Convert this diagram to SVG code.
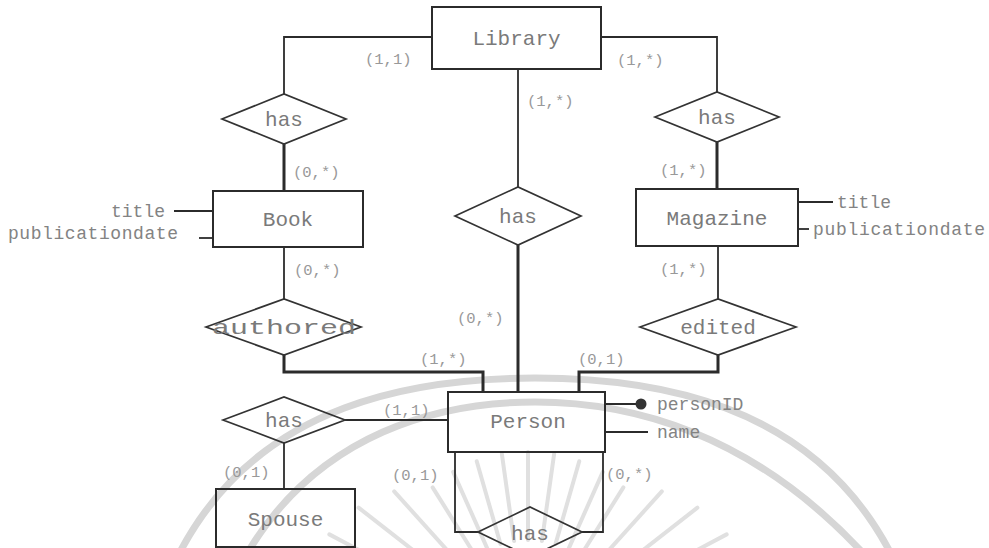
<svg xmlns="http://www.w3.org/2000/svg" width="989" height="548" viewBox="0 0 989 548">
  <style>
    .box { fill: none; stroke: #2b2b2b; stroke-width: 2; }
    .rel { fill: none; stroke: #333; stroke-width: 1.7; }
    .ln { fill: none; stroke: #2b2b2b; stroke-width: 1.8; }
    .thick { fill: none; stroke: #2b2b2b; stroke-width: 3; }
    .name { font-family: "Liberation Mono", "DejaVu Sans Mono", monospace; font-size: 21px; fill: #7a7a7a; text-anchor: middle; }
    .attr { font-family: "Liberation Mono", "DejaVu Sans Mono", monospace; font-size: 18px; fill: #838383; }
    .card { font-family: "Liberation Mono", "DejaVu Sans Mono", monospace; font-size: 15.5px; fill: #999999; }
    .wm { fill: none; stroke: #d6d6d6; stroke-width: 7; stroke-linecap: round; }
    .ray { stroke: #e0e0e0; stroke-width: 4; stroke-linecap: round; }
  </style>

  <rect width="989" height="548" fill="#ffffff"/>

  <!-- faint background emblem -->
  <g id="emblem">
    <path class="wm" d="M180,552 C260,400 420,378 535,378 C650,378 810,400 890,552"/>
    <path class="wm" d="M248,552 C320,432 440,402 535,402 C630,402 750,432 862,552"/>
    <g transform="translate(528,640)">
      <line class="ray" x1="0" y1="-100" x2="0" y2="-188"/>
      <line class="ray" x1="0" y1="-100" x2="0" y2="-188" transform="rotate(8)"/>
      <line class="ray" x1="0" y1="-100" x2="0" y2="-188" transform="rotate(-8)"/>
      <line class="ray" x1="0" y1="-100" x2="0" y2="-186" transform="rotate(16)"/>
      <line class="ray" x1="0" y1="-100" x2="0" y2="-186" transform="rotate(-16)"/>
      <line class="ray" x1="0" y1="-100" x2="0" y2="-184" transform="rotate(24)"/>
      <line class="ray" x1="0" y1="-100" x2="0" y2="-184" transform="rotate(-24)"/>
      <line class="ray" x1="0" y1="-100" x2="0" y2="-180" transform="rotate(32)"/>
      <line class="ray" x1="0" y1="-100" x2="0" y2="-180" transform="rotate(-32)"/>
      <line class="ray" x1="0" y1="-110" x2="0" y2="-200" transform="rotate(42)"/>
      <line class="ray" x1="0" y1="-110" x2="0" y2="-200" transform="rotate(-42)"/>
      <line class="ray" x1="0" y1="-120" x2="0" y2="-215" transform="rotate(52)"/>
      <line class="ray" x1="0" y1="-120" x2="0" y2="-215" transform="rotate(-52)"/>
      <line class="ray" x1="0" y1="-130" x2="0" y2="-225" transform="rotate(62)"/>
      <line class="ray" x1="0" y1="-130" x2="0" y2="-225" transform="rotate(-62)"/>
    </g>
  </g>

  <!-- connectors -->
  <g id="connectors">
    <path class="ln" d="M432,37 H284 V94"/>
    <path class="ln" d="M601,37 H717 V92"/>
    <path class="ln" d="M518,69 V187"/>
    <path class="thick" d="M284,144 V191"/>
    <path class="thick" d="M717,142 V189"/>
    <path class="ln" d="M284,247 V299"/>
    <path class="ln" d="M718,246 V299"/>
    <path class="thick" d="M284,355 V372 H483 V392"/>
    <path class="thick" d="M518,245 V392"/>
    <path class="thick" d="M718,355 V372 H579 V392"/>
    <path class="ln" d="M345,420 H448"/>
    <path class="ln" d="M284,443 V489"/>
    <path class="ln" d="M455,452 V532 H478"/>
    <path class="ln" d="M603,452 V532 H582"/>
  </g>

  <!-- entities -->
  <g id="library">
    <rect class="box" x="432" y="7" width="169" height="62"/>
    <text class="name" x="516.5" y="45">Library</text>
  </g>

  <g id="book">
    <rect class="box" x="213" y="191" width="150" height="56"/>
    <text class="name" x="288" y="226">Book</text>
    <path class="ln" d="M213,211 H174"/>
    <path class="ln" d="M213,238 H199"/>
    <text class="attr" x="165" y="217" text-anchor="end">title</text>
    <text class="attr" x="178" y="239" text-anchor="end" textLength="170" lengthAdjust="spacing">publicationdate</text>
  </g>

  <g id="magazine">
    <rect class="box" x="636" y="189" width="162" height="57"/>
    <text class="name" x="717" y="225">Magazine</text>
    <path class="ln" d="M798,202 H833"/>
    <path class="ln" d="M798,229 H809"/>
    <text class="attr" x="837" y="208">title</text>
    <text class="attr" x="813" y="235" textLength="172" lengthAdjust="spacing">publicationdate</text>
  </g>

  <g id="person">
    <rect class="box" x="448" y="392" width="157" height="60"/>
    <text class="name" x="528" y="428">Person</text>
    <path class="ln" d="M605,404 H638"/>
    <circle cx="641" cy="404" r="5.5" fill="#333"/>
    <path class="ln" d="M605,432 H648"/>
    <text class="attr" x="657" y="410">personID</text>
    <text class="attr" x="657" y="438">name</text>
  </g>

  <g id="spouse">
    <rect class="box" x="216" y="489" width="139" height="58"/>
    <text class="name" x="285.5" y="526">Spouse</text>
  </g>

  <!-- relationships -->
  <g id="has-library-book">
    <polygon class="rel" points="222,119 284,94 346,119 284,144"/>
    <text class="name" x="284" y="126">has</text>
  </g>

  <g id="has-library-person">
    <polygon class="rel" points="455,216 518,187 581,216 518,245"/>
    <text class="name" x="518" y="223">has</text>
  </g>

  <g id="has-library-magazine">
    <polygon class="rel" points="655,117 717,92 779,117 717,142"/>
    <text class="name" x="717" y="124">has</text>
  </g>

  <g id="authored">
    <polygon class="rel" points="206,327 284,299 361,327 284,355"/>
    <text class="name" x="284" y="334" textLength="144" lengthAdjust="spacingAndGlyphs">authored</text>
  </g>

  <g id="edited">
    <polygon class="rel" points="640,327 718,299 796,327 718,355"/>
    <text class="name" x="718" y="334">edited</text>
  </g>

  <g id="has-spouse">
    <polygon class="rel" points="223,420 284,397 345,420 284,443"/>
    <text class="name" x="284" y="427">has</text>
  </g>

  <g id="has-person">
    <polygon class="rel" points="478,532 530,507 582,532 530,557"/>
    <text class="name" x="530" y="540">has</text>
  </g>

  <!-- cardinalities -->
  <g id="cardinalities">
    <text class="card" x="365" y="64">(1,1)</text>
    <text class="card" x="617" y="65">(1,*)</text>
    <text class="card" x="527" y="106">(1,*)</text>
    <text class="card" x="293" y="177">(0,*)</text>
    <text class="card" x="660" y="175">(1,*)</text>
    <text class="card" x="294" y="275">(0,*)</text>
    <text class="card" x="660" y="274">(1,*)</text>
    <text class="card" x="457" y="323">(0,*)</text>
    <text class="card" x="420" y="364">(1,*)</text>
    <text class="card" x="578" y="364">(0,1)</text>
    <text class="card" x="383" y="415">(1,1)</text>
    <text class="card" x="223" y="477">(0,1)</text>
    <text class="card" x="392" y="480">(0,1)</text>
    <text class="card" x="606" y="479">(0,*)</text>
  </g>
</svg>
